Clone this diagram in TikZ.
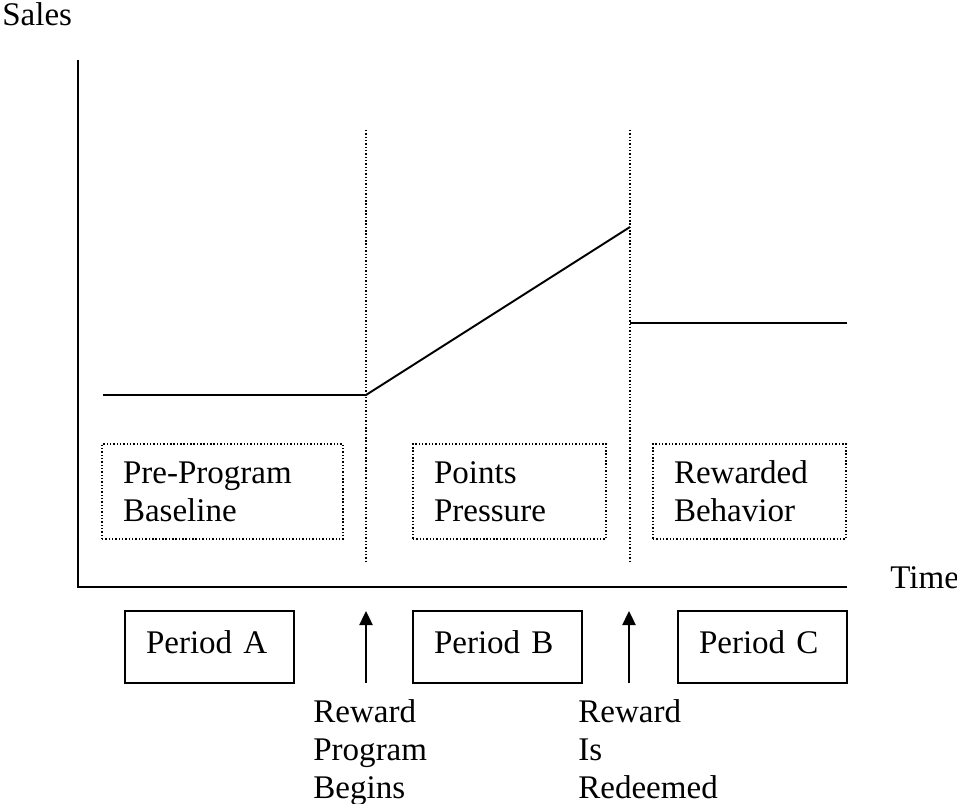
\documentclass[tikz,border=0pt]{standalone}
\usepackage{fontspec}
\setmainfont{Liberation Serif}
\usetikzlibrary{arrows.meta}

\begin{document}
\begin{tikzpicture}[x=0.02cm,y=-0.02cm,
  txt/.style={inner sep=0pt,font=\fontsize{18.8pt}{21.6pt}\selectfont,align=left},
  phase/.style={txt,draw,line width=0.8pt,dash pattern=on 0.8pt off 1.1pt,minimum height=1.9cm,inner xsep=0.42cm},
  period/.style={txt,draw,line width=1pt,minimum height=1.44cm,text width=2.54cm,text depth=0.18cm,inner xsep=0.42cm},
  marker/.style={line width=0.8pt,dash pattern=on 0.8pt off 1.1pt},
  up/.style={line width=1.1pt,-{Triangle[length=8pt,width=7.5pt]}}]
 \useasboundingbox (0,0) rectangle (957,804);
 \node[txt,anchor=base west] (sales) at (2,26) {Sales};
 \node[txt,anchor=base west] (time) at (890,588) {Time};
 \coordinate (top) at (78,60);
 \coordinate (o) at (78,587);
 \coordinate (end) at (847,587);
 \draw[line width=1.1pt] (top) -- (o) -- (end);
 \draw[marker] (366,130) -- (366,563);
 \draw[marker] (630,130) -- (630,563);
 \draw[line width=1.1pt] (103,395) -- (366,395) -- (630,227);
 \draw[line width=1.1pt] (630,323) -- (847,323);
 \node[phase,text width=3.98cm] (base) at (222.5,491.5) {Pre-Program\\Baseline};
 \node[phase,text width=3.02cm] (press) at (509.5,491.5) {Points\\Pressure};
 \node[phase,text width=3.02cm] (behav) at (749.5,491.5) {Rewarded\\Behavior};
 \node[period] (pa) at (209.5,647) {Period A};
 \node[period] (pb) at (497.5,647) {Period B};
 \node[period] (pc) at (762.5,647) {Period C};
 \coordinate (s1) at (366,683);
 \coordinate (t1) at (366,611);
 \coordinate (s2) at (629,683);
 \coordinate (t2) at (629,611);
 \draw[up] (s1) -- (t1);
 \draw[up] (s2) -- (t2);
 \node[txt,anchor=north west] (begins) at (313,699) {Reward\\Program\\Begins};
 \node[txt,anchor=north west] (redeem) at (578,699) {Reward\\Is\\Redeemed};
\end{tikzpicture}
\end{document}
